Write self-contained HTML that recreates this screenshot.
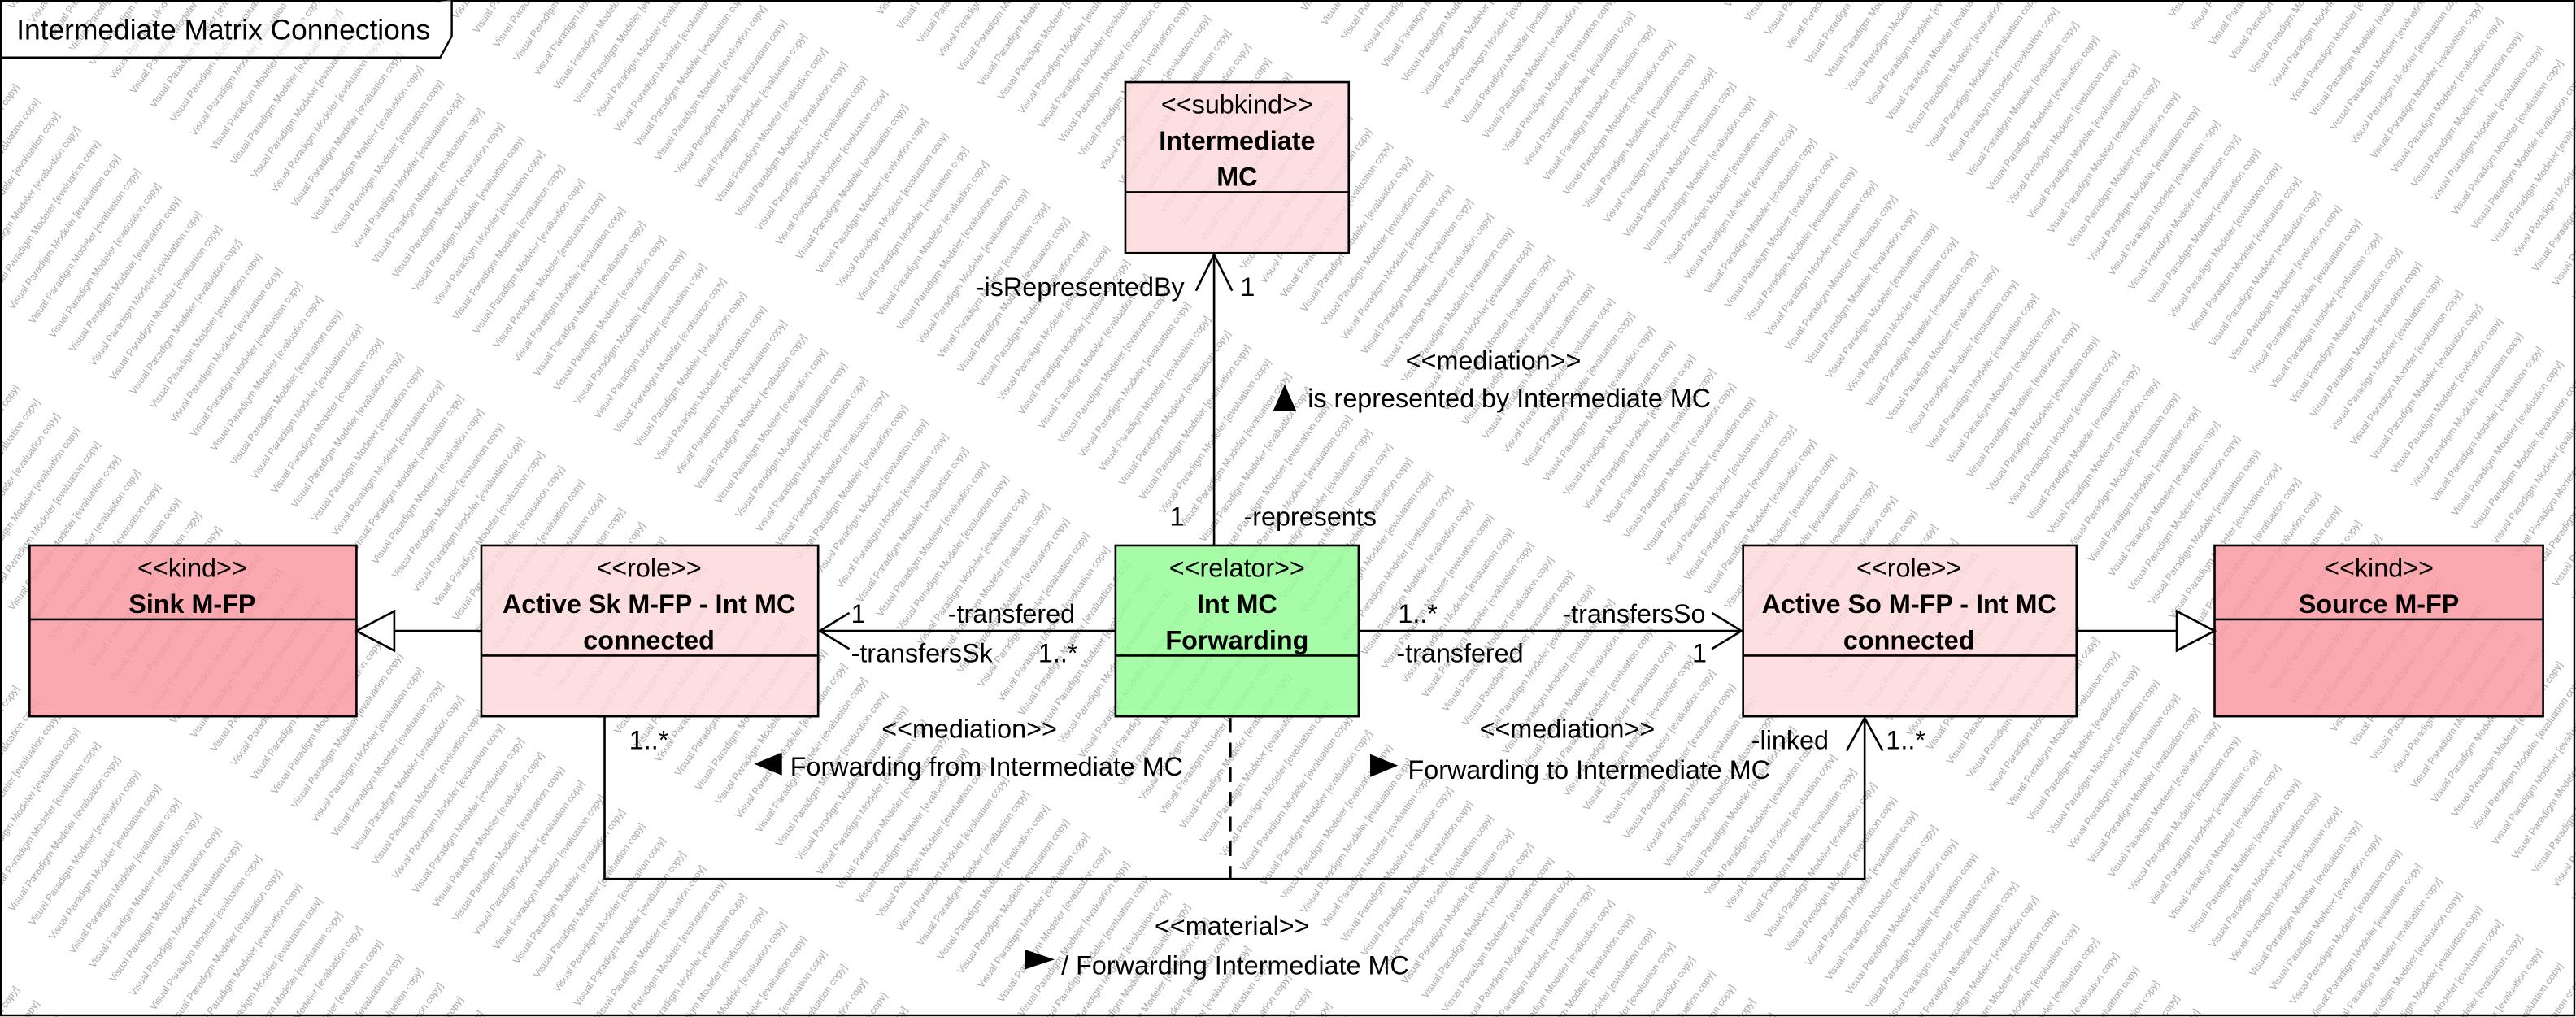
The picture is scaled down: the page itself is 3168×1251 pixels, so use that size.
<!DOCTYPE html>
<html><head><meta charset="utf-8"><style>
html,body{margin:0;padding:0;background:#fff;}
svg{display:block;}
text{font-family:"Liberation Sans",Arial,sans-serif;}
</style></head><body>
<svg width="3168" height="1251" viewBox="0 0 1568 619" preserveAspectRatio="none" xmlns="http://www.w3.org/2000/svg">
<defs>
<pattern id="wm" width="150" height="15" patternUnits="userSpaceOnUse" patternTransform="rotate(-55)">
<text x="0" y="10" font-size="6" fill="#8a8a8a">Visual Paradigm Modeler [evaluation copy]</text>
</pattern>
</defs>
<rect x="0" y="0" width="1568" height="619" fill="#fff"/>
<rect x="0" y="0" width="1568" height="619" fill="url(#wm)" opacity="0.8"/>
<rect x="0.5" y="0.5" width="1566.5" height="617.5" fill="none" stroke="#000" stroke-width="1.2"/>
<path d="M0,35 L268,35 L275,22 L275,0" fill="#fff" fill-opacity="0.6" stroke="#000" stroke-width="1.2"/>
<text x="10" y="24" font-size="17.5">Intermediate Matrix Connections</text>

<g stroke="#000" stroke-width="1.3">
<rect x="685" y="50" width="136" height="104" fill="#fdd9dd" fill-opacity="0.85"/>
<line x1="685" y1="117" x2="821" y2="117"/>
<rect x="18" y="332" width="199" height="104" fill="#fa9aa3" fill-opacity="0.85"/>
<line x1="18" y1="377" x2="217" y2="377"/>
<rect x="293" y="332" width="205" height="104" fill="#fdd9dd" fill-opacity="0.85"/>
<line x1="293" y1="399" x2="498" y2="399"/>
<rect x="679" y="332" width="148" height="104" fill="#98fb98" fill-opacity="0.85"/>
<line x1="679" y1="399" x2="827" y2="399"/>
<rect x="1061" y="332" width="203" height="104" fill="#fdd9dd" fill-opacity="0.85"/>
<line x1="1061" y1="399" x2="1264" y2="399"/>
<rect x="1348" y="332" width="200" height="104" fill="#fa9aa3" fill-opacity="0.85"/>
<line x1="1348" y1="377" x2="1548" y2="377"/>
</g>

<g font-size="16" text-anchor="middle">
<text x="753" y="69">&lt;&lt;subkind&gt;&gt;</text>
<text x="753" y="91" font-weight="bold">Intermediate</text>
<text x="753" y="113" font-weight="bold">MC</text>
<text x="117" y="351">&lt;&lt;kind&gt;&gt;</text>
<text x="117" y="373" font-weight="bold">Sink M-FP</text>
<text x="395" y="351">&lt;&lt;role&gt;&gt;</text>
<text x="395" y="373" font-weight="bold">Active Sk M-FP - Int MC</text>
<text x="395" y="395" font-weight="bold">connected</text>
<text x="753" y="351">&lt;&lt;relator&gt;&gt;</text>
<text x="753" y="373" font-weight="bold">Int MC</text>
<text x="753" y="395" font-weight="bold">Forwarding</text>
<text x="1162" y="351">&lt;&lt;role&gt;&gt;</text>
<text x="1162" y="373" font-weight="bold">Active So M-FP - Int MC</text>
<text x="1162" y="395" font-weight="bold">connected</text>
<text x="1448" y="351">&lt;&lt;kind&gt;&gt;</text>
<text x="1448" y="373" font-weight="bold">Source M-FP</text>
</g>

<g stroke="#000" stroke-width="1.3" fill="none">
<line x1="739" y1="332" x2="739" y2="155"/>
<polyline points="728,177 739,155 750,177"/>
<line x1="293" y1="384" x2="240" y2="384"/>
<polygon points="217,384 240,372 240,396" fill="#fff"/>
<line x1="679" y1="384" x2="499" y2="384"/>
<polyline points="517,373 499,384 517,395"/>
<line x1="827" y1="384" x2="1060" y2="384"/>
<polyline points="1042,373 1060,384 1042,395"/>
<line x1="1264" y1="384" x2="1325" y2="384"/>
<polygon points="1348,384 1325,372 1325,396" fill="#fff"/>
<polyline points="368,436 368,535 1135,535 1135,437"/>
<polyline points="1124,457 1135,437 1146,457"/>
<line x1="749" y1="437" x2="749" y2="535" stroke-dasharray="9,6"/>
</g>

<g font-size="16">
<text x="721" y="180" text-anchor="end">-isRepresentedBy</text>
<text x="755" y="180">1</text>
<text x="712" y="320">1</text>
<text x="757" y="320">-represents</text>
<text x="909" y="225" text-anchor="middle">&lt;&lt;mediation&gt;&gt;</text>
<polygon points="775,250 782,234 789,250" fill="#000"/>
<text x="796" y="248">is represented by Intermediate MC</text>
<text x="518" y="379">1</text>
<text x="577" y="379">-transfered</text>
<text x="518" y="403">-transfersSk</text>
<text x="632" y="403">1..*</text>
<text x="590" y="449" text-anchor="middle">&lt;&lt;mediation&gt;&gt;</text>
<polygon points="459,465 476,458 476,472" fill="#000"/>
<text x="481" y="472">Forwarding from Intermediate MC</text>
<text x="851" y="379">1..*</text>
<text x="951" y="379">-transfersSo</text>
<text x="850" y="403">-transfered</text>
<text x="1030" y="403">1</text>
<text x="954" y="449" text-anchor="middle">&lt;&lt;mediation&gt;&gt;</text>
<polygon points="834,459 851,466 834,473" fill="#000"/>
<text x="857" y="474">Forwarding to Intermediate MC</text>
<text x="383" y="456">1..*</text>
<text x="1066" y="456">-linked</text>
<text x="1148" y="456">1..*</text>
<text x="750" y="569" text-anchor="middle">&lt;&lt;material&gt;&gt;</text>
<polygon points="624,578 642,584 624,590" fill="#000"/>
<text x="646" y="593">/ Forwarding Intermediate MC</text>
</g>
</svg>
</body></html>
